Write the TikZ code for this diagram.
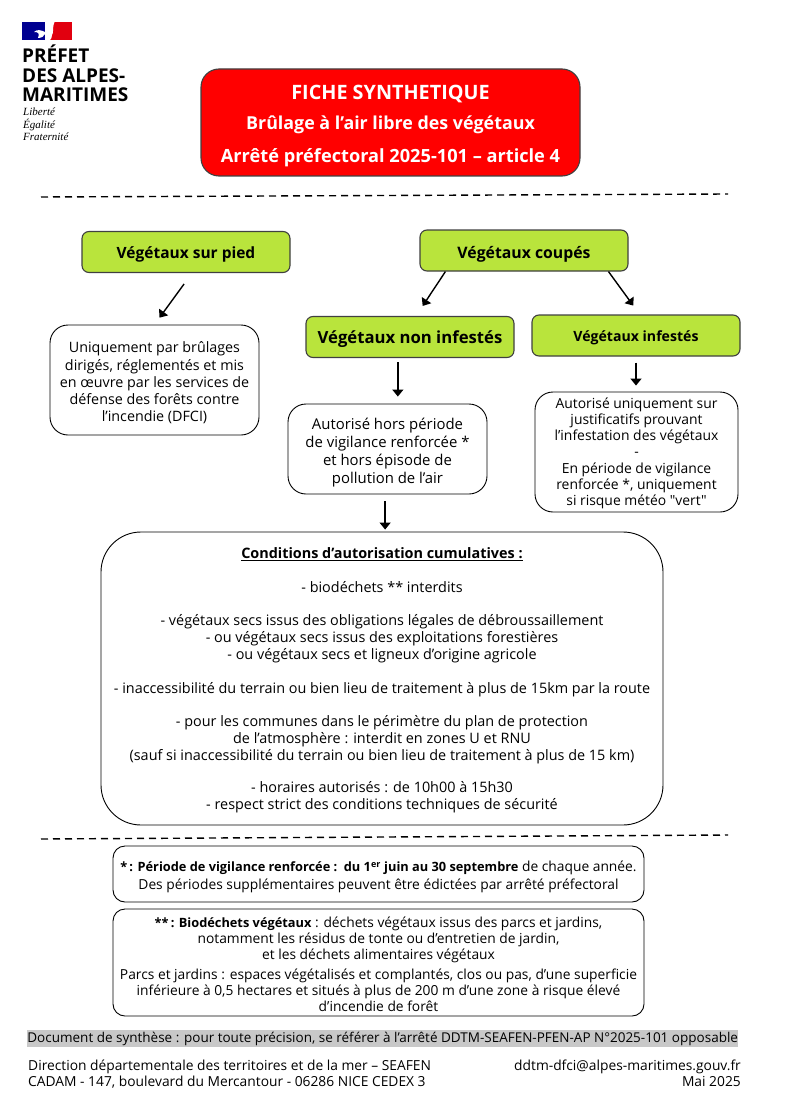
\documentclass[tikz,border=0pt]{standalone}
\usepackage{fontspec}
\setmainfont{Open Sans}
\newfontfamily\devise{Liberation Serif}
\newfontfamily\droitfont{Open Sans}
\usepackage{xcolor}
\usetikzlibrary{positioning,calc,arrows.meta}
\definecolor{rougefiche}{HTML}{FF0000}
\definecolor{vertfiche}{HTML}{B9E43C}
\definecolor{bleuflag}{HTML}{000091}
\definecolor{rougeflag}{HTML}{E1000F}
\definecolor{grisband}{HTML}{C8C8C8}
\newcommand{\gras}[1]{{\fontsize{12.8}{16}\selectfont\bfseries #1}}
\newcommand{\ligne}[1]{\fontsize{#1}{20}\selectfont}
\newcommand{\decal}[1]{\rule{0pt}{#1pt}}
\tikzset{
    vert/.style={draw=black!75, line width=1.1pt, fill=vertfiche, rounded corners=7pt, minimum width=208pt, minimum height=41pt, inner sep=0pt, text height=12pt, text depth=0pt, font=\fontsize{15.6}{18}\selectfont\bfseries},
    bulle/.style={draw=black, line width=0.9pt, fill=white, rounded corners=18pt, inner sep=0pt, align=center, font=\fontsize{14.3}{17.2}\selectfont},
    note/.style={draw=black, line width=0.9pt, rounded corners=12pt, inner sep=0pt, align=center, minimum width=531pt, font=\fontsize{13.8}{16}\selectfont},
    pied/.style={inner sep=0pt, align=left, font=\fontsize{13.8}{16}\selectfont},
    fleche/.style={-{Triangle[length=7pt,width=11pt]}, line width=1.4pt},
    tirets/.style={line width=1.4pt, dash pattern=on 7pt off 5pt}
}
\begin{document}
\begin{tikzpicture}[x=1pt,y=-1pt]
    \useasboundingbox (0,0) rectangle (789,1118);

    % logo
    \fill[bleuflag] (22,22) rectangle (45,40);
    \fill[rougeflag] (50,22) rectangle (72,40);
    \fill[white] (54.5,22) .. controls (52,27) and (54,33) .. (52,35) .. controls (52,38) and (51,39) .. (50,40) -- (50,22) -- cycle;
    \fill[white] (45,32) .. controls (41,30) and (37,29) .. (34,32) .. controls (38,32) and (40,33) .. (38,38) .. controls (42,38) and (44,36) .. (45,34) -- cycle;
    \node[anchor=north west, inner sep=0pt, align=left, font=\fontsize{19}{19.5}\selectfont\bfseries] (prefet) at (22,45) {PRÉFET\\DES ALPES-\\MARITIMES};
    \node[anchor=north west, inner sep=0pt, align=left, font=\fontsize{11}{12.5}\selectfont\devise\itshape] (devise) at (23,108) {Liberté\\Égalité\\Fraternité};

    % titre
    \node[draw=black!75, line width=1.1pt, fill=rougefiche, rounded corners=18pt, text=white, minimum width=379pt, minimum height=107pt, inner sep=0pt, align=center, font=\bfseries] (titre) at (390.5,122.5) {\decal{21}\ligne{19.8}FICHE SYNTHETIQUE\\[12pt]\ligne{17.85}Brûlage à l’air libre des végétaux\\[14pt]\ligne{18.2}Arrêté préfectoral 2025-101 – article 4};

    \coordinate (tirA) at (41,197);
    \coordinate (tirB) at (728,194);
    \draw[tirets] (tirA) -- (tirB);

    % categories
    \node[vert, font=\fontsize{15.5}{18}\selectfont\bfseries] (surpied) at (186,252) {Végétaux sur pied};
    \node[vert, text height=15pt, font=\fontsize{15.8}{18}\selectfont\bfseries] (coupes) at (524,250.5) {Végétaux coupés};
    \node[vert, font=\fontsize{16.7}{18}\selectfont\bfseries] (noninf) at (410,337) {Végétaux non infestés};
    \node[vert, font=\fontsize{14.1}{18}\selectfont\bfseries] (infest) at (636,335.5) {Végétaux infestés};

    % conditions
    \node[bulle, minimum width=209pt, minimum height=110pt] (dfci) at (154.5,380) {\decal{17}Uniquement par brûlages\\dirigés, réglementés et mis\\en œuvre par les services de\\défense des forêts contre\\l’incendie (DFCI)};
    \node[bulle, minimum width=199pt, minimum height=90pt, font=\fontsize{14.9}{18}\selectfont] (autorise) at (387.5,449) {\decal{17.6}Autorisé hors période\\de vigilance renforcée *\\et hors épisode de\\pollution de l’air};
    \node[bulle, minimum width=203pt, minimum height=120pt, font=\fontsize{13.9}{16.2}\selectfont] (justif) at (636.5,452) {\decal{13}Autorisé uniquement sur\\justificatifs prouvant\\l’infestation des végétaux\\-\\En période de vigilance\\renforcée *, uniquement\\si risque météo {\droitfont "vert"}};

    \node[bulle, rounded corners=40pt, minimum width=562pt, minimum height=293pt, font=\fontsize{14.4}{17}\selectfont] (cumul) at (382,678.5) {\decal{15.4}\textbf{\underline{Conditions d’autorisation cumulatives :}}\\[17pt]
    - biodéchets ** interdits\\[16pt]
    - végétaux secs issus des obligations légales de débroussaillement\\
    - ou végétaux secs issus des exploitations forestières\\
    - ou végétaux secs et ligneux d’origine agricole\\[17pt]
    - inaccessibilité du terrain ou bien lieu de traitement à plus de 15km par la route\\[16pt]
    - pour les communes dans le périmètre du plan de protection\\
    de l’atmosphère : interdit en zones U et RNU\\
    (sauf si inaccessibilité du terrain ou bien lieu de traitement à plus de 15 km)\\[15pt]
    - horaires autorisés : de 10h00 à 15h30\\
    - respect strict des conditions techniques de sécurité};

    % fleches
    \draw[fleche, shorten <=13.5pt, shorten >=8.5pt] (surpied.286) -- (dfci.north);
    \draw[fleche, shorten >=12pt] (coupes.195) -- (noninf.74);
    \draw[fleche, shorten >=11pt] (coupes.-14.5) -- (infest.80);
    \draw[fleche, shorten <=4pt, shorten >=7pt] (noninf.240) -- (noninf.240 |- autorise.north);
    \draw[fleche, shorten <=6pt, shorten >=6pt] (infest.south) -- (infest.south |- justif.north);
    \draw[fleche, shorten <=7pt, shorten >=2pt] (autorise.267) -- (autorise.267 |- cumul.north);

    \coordinate (tirC) at (41,839);
    \coordinate (tirD) at (728,835);
    \draw[tirets] (tirC) -- (tirD);

    % notes
    \node[note, minimum height=56pt, font=\fontsize{13.8}{18}\selectfont] (vigil) at (378.5,874) {\decal{17}\gras{*\,: Période de vigilance renforcée :\, du 1\textsuperscript{er} juin au 30 septembre} de chaque année.\\Des périodes supplémentaires peuvent être édictées par arrêté préfectoral};
    \node[note, minimum height=107pt] (biodech) at (378.5,962.5) {\decal{14.5}\gras{**\,: Biodéchets végétaux} : déchets végétaux issus des parcs et jardins,\\notamment les résidus de tonte ou d’entretien de jardin,\\et les déchets alimentaires végétaux\\[4pt]
    Parcs et jardins : espaces végétalisés et complantés, clos ou pas, d’une superficie\\inférieure à 0,5 hectares et situés à plus de 200 m d’une zone à risque élevé\\d’incendie de forêt};

    % bas de page
    \node[fill=grisband, anchor=north west, inner sep=0pt, minimum width=711pt, minimum height=17pt, font=\fontsize{13.5}{16}\selectfont] (synthese) at (27,1030) {Document de synthèse : pour toute précision, se référer à l’arrêté DDTM-SEAFEN-PFEN-AP N°2025-101 opposable};
    \node[pied, anchor=north west] (adresse) at (28,1060) {Direction départementale des territoires et de la mer – SEAFEN\\CADAM - 147, boulevard du Mercantour - 06286 NICE CEDEX 3};
    \node[pied, anchor=north east, align=right] (contact) at (741,1060) {ddtm-dfci@alpes-maritimes.gouv.fr\\Mai 2025};
\end{tikzpicture}
\end{document}
